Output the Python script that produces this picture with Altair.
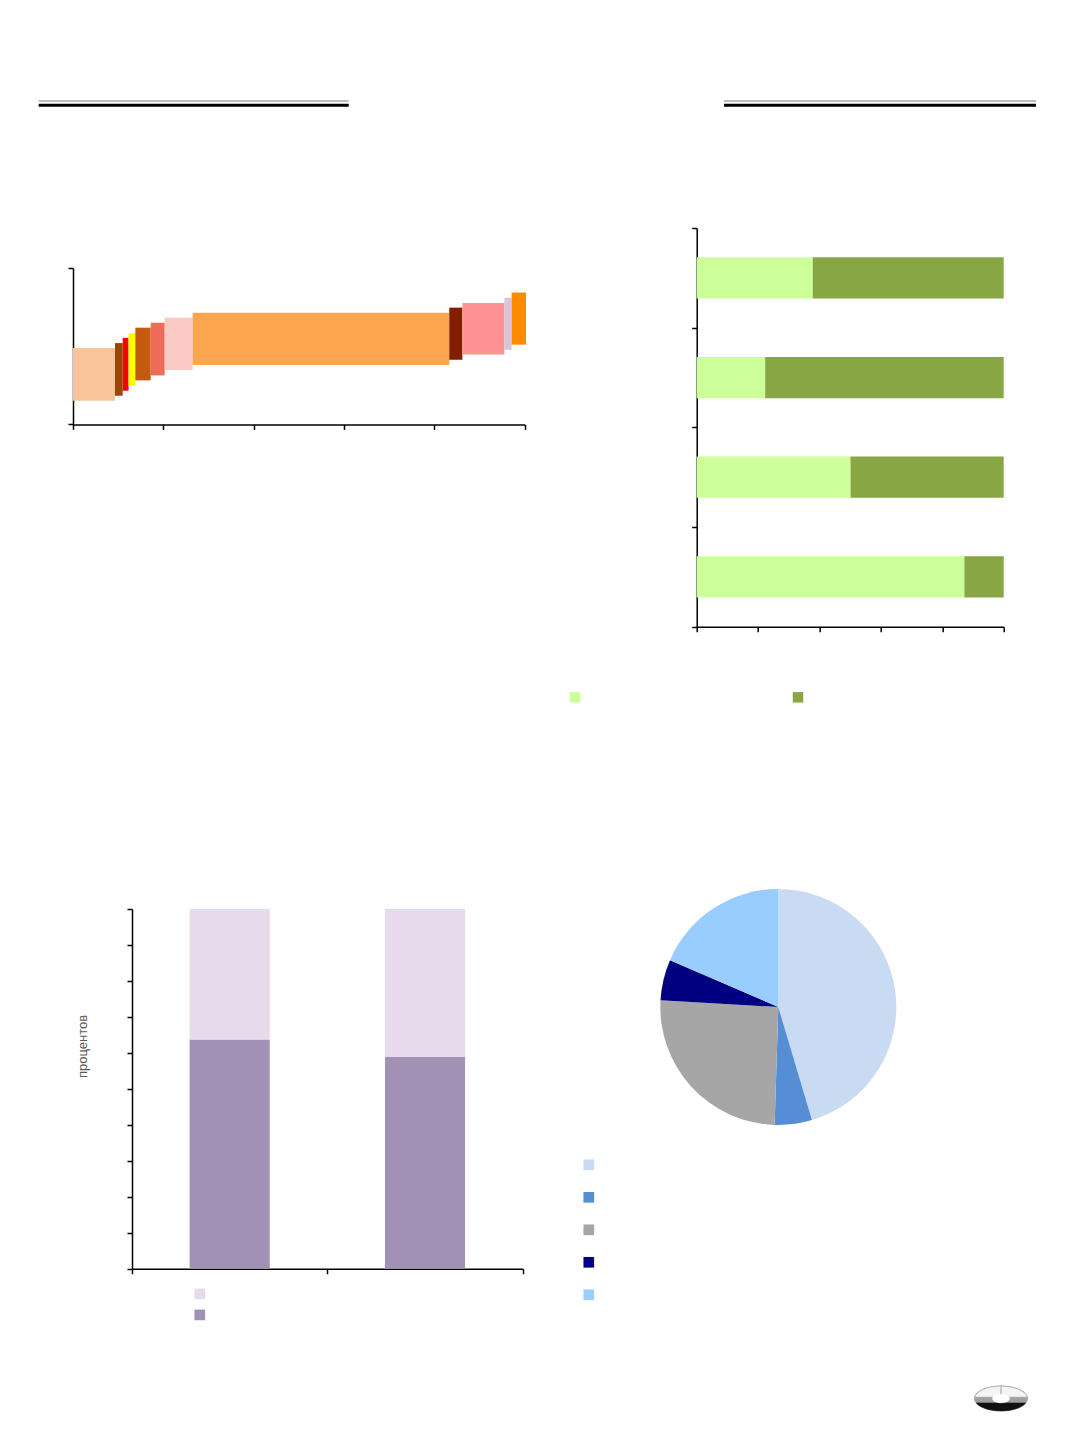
import altair as alt
import pandas as pd

# ---------------- Chart 1 : variable-width floating bars ----------------
seg_names = ["s1", "s2", "s3", "s4", "s5", "s6", "s7", "s8", "s9", "s10", "s11", "s12"]
seg_x0 = [0, 9.3, 11.0, 12.3, 13.8, 17.2, 20.3, 26.5, 83.3, 86.2, 95.5, 97.1]
seg_x1 = [9.3, 11.0, 12.3, 13.8, 17.2, 20.3, 26.5, 83.3, 86.2, 95.5, 97.1, 100.3]
seg_y0 = [4.55, 5.5, 6.46, 7.42, 8.44, 9.4, 10.44, 11.4, 12.4, 13.4, 14.3, 15.3]
seg_y1 = [14.66, 15.6, 16.6, 17.5, 18.55, 19.5, 20.47, 21.4, 22.4, 23.3, 24.3, 25.3]
seg_colors = ["#F9C499", "#974706", "#FF0000", "#FFFF00", "#C55A11", "#EF6C5A",
              "#FACBC5", "#FBA64F", "#7F1F00", "#FF9393", "#D9C4DC", "#FF8C00"]

# ---------------- Chart 2 : horizontal 100% stacked bars ----------------
c2_cats = ["r1", "r2", "r3", "r4"]
c2_light = [37.8, 22.3, 50.1, 87.2]
c2_dark = [62.2, 77.7, 49.9, 12.8]
c2_series = ["a", "b"]
c2_colors = ["#CCFF99", "#88A644"]

# ---------------- Chart 3 : vertical 100% stacked bars ----------------
c3_cats = ["c1", "c2"]
c3_dark = [63.7, 58.9]
c3_light = [36.3, 41.1]
c3_series = ["light", "dark"]
c3_colors = ["#E6DAEC", "#A391B5"]

# ---------------- Chart 4 : pie ----------------
pie_cats = ["p1", "p2", "p3", "p4", "p5"]
pie_vals = [45.4, 5.1, 25.4, 5.6, 18.5]
pie_colors = ["#C9DBF2", "#558ED5", "#A6A6A6", "#000080", "#99CCFF"]

one = pd.DataFrame({"a": [0]})


def ax(**kw):
    base = dict(labels=False, grid=False, domainColor="black", tickColor="black",
                domainWidth=1.5, tickWidth=1.5, tickSize=5)
    base.update(kw)
    return alt.Axis(**base)


def spacer(w, h):
    return alt.Chart(one).mark_rect(opacity=0).encode(
        x=alt.value(0), x2=alt.value(w), y=alt.value(0), y2=alt.value(h)
    ).properties(width=w, height=h)


def lines(x0, x1, w, h, fx0, fx1):
    # transparent frame that fixes the column's bounding box for the outer layout
    frame = alt.Chart(one).mark_rect(opacity=0).encode(
        x=alt.value(fx0), x2=alt.value(fx1), y=alt.value(0), y2=alt.value(h))
    gray = alt.Chart(one).mark_rule(color="#A8A8A8", strokeWidth=1.4).encode(
        x=alt.value(x0), x2=alt.value(x1), y=alt.value(93))
    black = alt.Chart(one).mark_rule(color="#000000", strokeWidth=3).encode(
        x=alt.value(x0), x2=alt.value(x1), y=alt.value(97.2))
    return alt.layer(frame, gray, black).properties(width=w, height=h)


def legend(**kw):
    base = dict(orient="none", title=None, labelExpr="''", symbolType="square",
                symbolStrokeWidth=0, padding=0)
    base.update(kw)
    return alt.Legend(**base)


# Chart 1
df1 = pd.DataFrame({"seg": seg_names, "x0": seg_x0, "x1": seg_x1, "y0": seg_y0, "y1": seg_y1})
c1 = alt.Chart(df1).mark_rect().encode(
    x=alt.X("x0:Q", scale=alt.Scale(domain=[0, 100], nice=False), axis=ax(values=[0, 20, 40, 60, 80, 100]), title=None),
    x2="x1:Q",
    y=alt.Y("y0:Q", scale=alt.Scale(domain=[0, 30], nice=False), axis=ax(values=[0, 30]), title=None),
    y2="y1:Q",
    color=alt.Color("seg:N", scale=alt.Scale(domain=seg_names, range=seg_colors), legend=None),
).properties(width=451.7, height=156.4)

# Chart 2
rows2 = []
for i, c in enumerate(c2_cats):
    rows2.append({"cat": c, "series2": "a", "v": c2_light[i], "o": 0})
    rows2.append({"cat": c, "series2": "b", "v": c2_dark[i], "o": 1})
df2 = pd.DataFrame(rows2)
c2 = alt.Chart(df2).mark_bar(height=alt.RelativeBandSize(0.414)).encode(
    y=alt.Y("cat:N", sort=c2_cats, scale=alt.Scale(paddingInner=0, paddingOuter=0),
            axis=ax(tickBand="extent"), title=None),
    x=alt.X("v:Q", stack="zero", scale=alt.Scale(domain=[0, 100], nice=False),
            axis=ax(values=[0, 20, 40, 60, 80, 100]), title=None),
    color=alt.Color("series2:N", scale=alt.Scale(domain=c2_series, range=c2_colors),
                    legend=legend(legendX=-127.2, legendY=463.7, direction="horizontal",
                                  columns=2, columnPadding=208, symbolSize=110)),
    order=alt.Order("o:Q"),
).properties(width=307, height=398.7)

# Chart 3
rows3 = []
for i, c in enumerate(c3_cats):
    rows3.append({"cat": c, "series3": "dark", "v": c3_dark[i], "o": 0})
    rows3.append({"cat": c, "series3": "light", "v": c3_light[i], "o": 1})
df3 = pd.DataFrame(rows3)
c3 = alt.Chart(df3).mark_bar(width=alt.RelativeBandSize(0.41)).encode(
    x=alt.X("cat:N", sort=c3_cats, scale=alt.Scale(paddingInner=0, paddingOuter=0),
            axis=ax(tickBand="extent"), title=None),
    y=alt.Y("v:Q", stack="zero", scale=alt.Scale(domain=[0, 100], nice=False),
            axis=ax(values=list(range(0, 101, 10)), title="процентов", titleX=-50, titleY=137,
                    titleAngle=270, titleAlign="center", titleBaseline="middle",
                    titleFontSize=13, titleFont="Liberation Sans", titleFontWeight="normal",
                    titleColor="#595959")),
    color=alt.Color("series3:N", scale=alt.Scale(domain=c3_series, range=c3_colors),
                    legend=legend(legendX=62.3, legendY=379.4, direction="vertical",
                                  rowPadding=10, symbolSize=114)),
    order=alt.Order("o:Q"),
).properties(width=390.7, height=359.7)

# Chart 4
df4 = pd.DataFrame({"piecat": pie_cats, "v": pie_vals, "idx": list(range(len(pie_cats)))})
pie = alt.Chart(df4).mark_arc(outerRadius=118).encode(
    theta=alt.Theta("v:Q", stack=True),
    color=alt.Color("piecat:N", scale=alt.Scale(domain=pie_cats, range=pie_colors),
                    legend=legend(legendX=-113.4, legendY=532.3, direction="vertical",
                                  rowPadding=21.5, symbolSize=114)),
    order=alt.Order("idx:Q"),
    x=alt.value(81.6),
    y=alt.value(380),
)

LOGO_X, LOGO_Y, LOGO_S = 304.3, 771.5, 2809
logo_parts = [
    ("M-1,0 A1,0.47 0 1,1 1,0 A1,0.47 0 1,1 -1,0 Z", "#A0A0A0", "#8A8A8A"),
    ("M-0.994,-0.05 A1,0.47 0 0,1 0.994,-0.05 Z", "#F4F4F4", "#9A9A9A"),
    ("M-0.93,0.17 A1,0.47 0 0,0 0.93,0.17 Z", "#111111", "#111111"),
    ("M-0.32,0 A0.32,0.16 0 1,0 0.32,0 A0.32,0.16 0 1,0 -0.32,0 Z", "#FFFFFF", "#FFFFFF"),
]
logo_layers = []
for path, fill, stroke in logo_parts:
    logo_layers.append(
        alt.Chart(one).mark_point(shape=path, size=LOGO_S, filled=True, fill=fill, stroke=stroke,
                                  strokeWidth=0.6, opacity=1).encode(
            x=alt.value(LOGO_X), y=alt.value(LOGO_Y)))
logo_layers.append(
    alt.Chart(one).mark_point(shape="M0,-0.47 L0,-0.16", size=LOGO_S, filled=False,
                              stroke="#8A8A8A", strokeWidth=0.8, opacity=1).encode(
        x=alt.value(LOGO_X), y=alt.value(LOGO_Y)))

c4 = alt.layer(pie, *logo_layers).properties(width=307, height=498)

LW = 451.7
RW = 307
left_col = alt.vconcat(
    lines(-34.3, 275.7, LW, 259.3, -64.3, 471.7),
    c1,
    spacer(LW, 483.6),
    alt.hconcat(spacer(58.7, 359.7), c3, spacing=0, bounds="flush").resolve_scale(color="independent"),
    spacing=0, bounds="flush",
).resolve_scale(color="independent")
right_col = alt.vconcat(
    lines(27.3, 339.3, RW, 219.3, -140, 360),
    c2,
    c4,
    spacing=0, bounds="flush",
).resolve_scale(color="independent")

chart = alt.hconcat(
    left_col, right_col,
    spacing=11.7, bounds="full",
).resolve_scale(color="independent").properties(padding=0).configure_view(strokeWidth=0)

chart.save("out.html", embed_options={"renderer": "svg", "actions": False})
